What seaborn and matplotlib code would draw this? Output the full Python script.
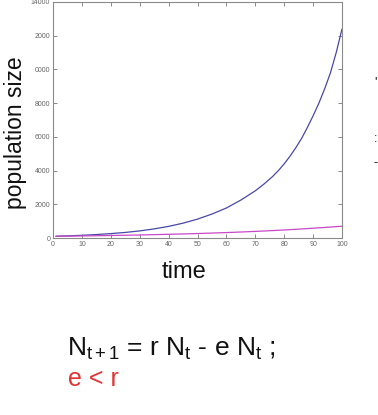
import matplotlib
matplotlib.use("Agg")
import matplotlib.pyplot as plt
import seaborn as sns
import pandas as pd

# data
t_vals = [1, 5, 10, 15, 20, 25, 30, 35, 40, 45, 50, 55, 60, 65, 70, 73, 76, 78,
          80, 82, 84, 86, 88, 90, 92, 94, 96, 98, 100]
growth = [105, 125, 160, 205, 260, 330, 420, 540, 690, 880, 1120, 1420, 1780, 2250,
          2800, 3200, 3650, 4000, 4400, 4850, 5350, 5900, 6550, 7250, 8000, 8850,
          9800, 11000, 12400]
slow = [102, 110, 122, 134, 148, 163, 180, 199, 220, 241, 265, 292, 322, 355,
        392, 416, 441, 458, 475, 496, 516, 537, 558, 580, 602, 625, 648, 674, 700]
x_ticks = [0, 10, 20, 30, 40, 50, 60, 70, 80, 90, 100]
y_ticks = [0, 2000, 4000, 6000, 8000, 10000, 12000, 14000]
y_tick_labels = ["0", "2000", "4000", "6000", "8000", "0000", "2000", "14000"]

sns.set_theme(style="white")
plt.rcParams['font.family'] = ['Liberation Sans', 'DejaVu Sans']
plt.rcParams['mathtext.fontset'] = 'custom'
plt.rcParams['mathtext.rm'] = 'Liberation Sans'
plt.rcParams['mathtext.it'] = 'Liberation Sans'

df = pd.DataFrame({"t": t_vals + t_vals,
                   "N": growth + slow,
                   "series": ["a"] * len(t_vals) + ["b"] * len(t_vals)})

fig = plt.figure(figsize=(3.78, 4.15), dpi=100)
ax = fig.add_axes([53 / 378, 1 - 238 / 415, (342 - 53) / 378, (238 - 2) / 415])
sns.lineplot(data=df, x="t", y="N", hue="series",
             palette={"a": "#4848a8", "b": "#c848c8"},
             linewidth=0.9, legend=False, ax=ax)
ax.set_xlim(0, 100)
ax.set_ylim(0, 14000)
ax.set_xticks(x_ticks)
ax.set_yticks(y_ticks)
ax.set_yticklabels(y_tick_labels)
ax.set_xlabel("")
ax.set_ylabel("")
ax.tick_params(direction="in", length=3, width=0.6, colors="#777777",
               labelsize=5, labelcolor="#666666", top=True, right=True,
               bottom=True, left=True, pad=2)
for s in ax.spines.values():
    s.set_color("#8a8a8a")
    s.set_linewidth(0.8)

fig.text(16 / 378, 1 - 133 / 415, "population size", rotation=90,
         ha="center", va="center", fontsize=16.5, color="#111111")
fig.text(184 / 378, 1 - 272 / 415, "time", ha="center", va="center",
         fontsize=17, color="#111111")
fig.text(67 / 378, 1 - 356 / 415, r"$\mathregular{N_{t+1}}$ = r $\mathregular{N_t}$ - e $\mathregular{N_t}$ ;",
         ha="left", va="baseline", fontsize=19, color="#111111")
fig.text(68 / 378, 1 - 386 / 415, "e < r", ha="left", va="baseline",
         fontsize=18, color="#e03535")

# cut-off text fragments at the right edge
fig.text(374 / 378, 1 - 82 / 415, "'", ha="left", va="center", fontsize=9, color="#111111")
fig.text(374 / 378, 1 - 139 / 415, ":", ha="left", va="center", fontsize=9, color="#111111")
fig.text(373 / 378, 1 - 163 / 415, "-", ha="left", va="center", fontsize=9, color="#111111")

fig.savefig("out.png", dpi=100)
